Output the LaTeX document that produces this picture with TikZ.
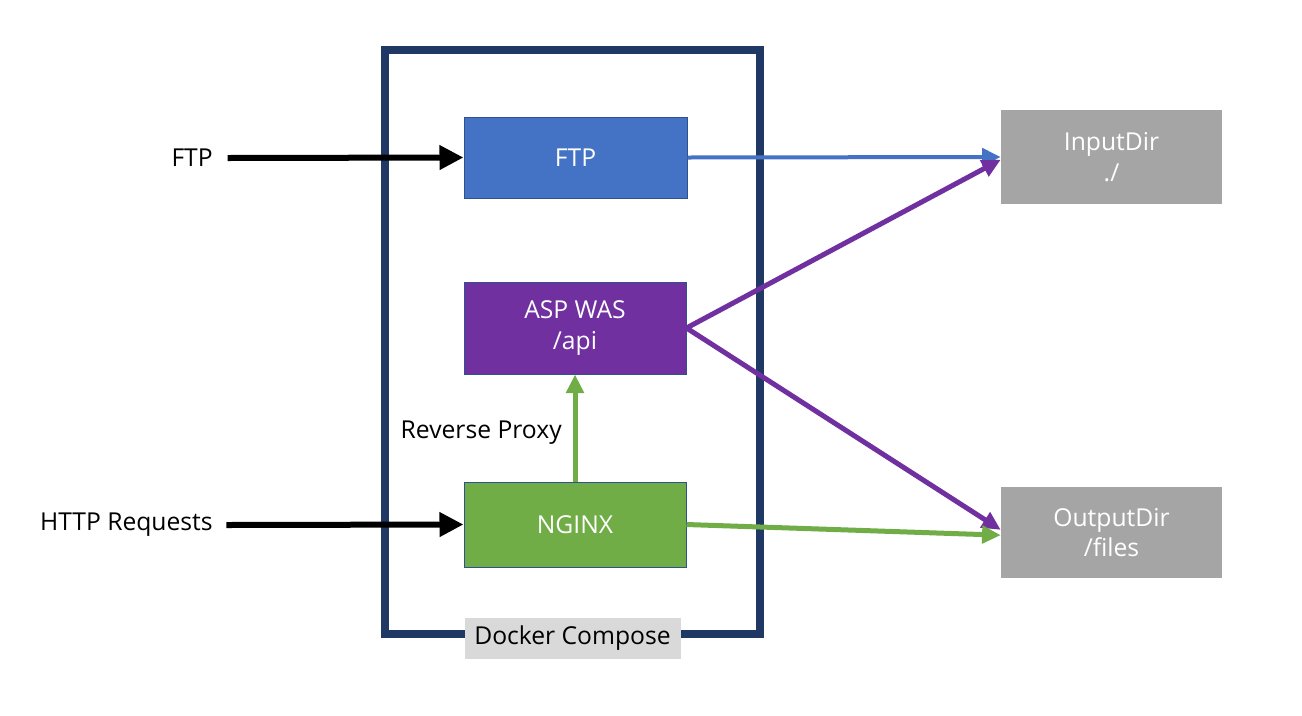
\documentclass[tikz,border=0pt]{standalone}
\usepackage{xcolor}
\usepackage{fontspec}
\setmainfont{Open Sans}
\usepackage{tikz}
\usetikzlibrary{shapes.geometric, arrows.meta}
\definecolor{ftpblue}{HTML}{4472C4}
\definecolor{waspurple}{HTML}{7030A0}
\definecolor{nginxgreen}{HTML}{70AD47}
\definecolor{dirgray}{HTML}{A5A5A5}
\definecolor{framenavy}{HTML}{203864}
\definecolor{edgenavy}{HTML}{2F528F}
\definecolor{labelgray}{HTML}{D9D9D9}
\tikzstyle{service} = [rectangle, draw=edgenavy, line width=0.75pt, text=white, align=center, inner sep=0pt]
\tikzstyle{folder} = [rectangle, fill=dirgray, text=white, align=center, inner sep=0pt, minimum width=165.75pt]
\tikzstyle{inarrow} = [line width=4.5pt, -{Triangle[length=18pt, width=17.5pt]}]
\tikzstyle{outarrow} = [line width=3.75pt, -{Triangle[length=14pt, width=13pt]}]

\begin{document}
\begin{tikzpicture}[x=0.75pt, y=-0.75pt, font=\fontsize{18.5pt}{23pt}\selectfont]
        \useasboundingbox[fill=white] (0,0) rectangle (1302,715);
        % Docker Compose frame
        \node (compose) [rectangle, draw=framenavy, line width=6pt, minimum width=281.25pt, minimum height=438pt] at (572.5,342) {};
        \node (composelabel) [fill=labelgray, minimum width=162pt, minimum height=30.75pt, inner sep=0pt] at (compose.south) {Docker Compose};
        % Services
        \node (ftp) [service, fill=ftpblue, minimum width=167.25pt, minimum height=60.75pt] at (575.5,157.5) {FTP};
        \node (was) [service, fill=waspurple, minimum width=166.5pt, minimum height=69pt] at (575,328) {ASP WAS\\/api};
        \node (nginx) [service, fill=nginxgreen, minimum width=166.5pt, minimum height=63.75pt] at (575,524.5) {NGINX};
        % Directories
        \node (inputdir) [folder, minimum height=70.5pt] at (1111.5,157) {InputDir\\./};
        \node (outputdir) [folder, minimum height=68.25pt] at (1111.5,532.5) {OutputDir\\/files};
        % Clients
        \node (ftpclient) [anchor=east, inner sep=0pt] at (213,158) {FTP};
        \node (httpclient) [anchor=east, inner sep=0pt] at (213,525) {HTTP Requests};
        \node (proxylabel) [anchor=east, inner sep=0pt] at (562,433) {Reverse Proxy};
        % Connectors
        \draw[inarrow] ([xshift=11pt]ftpclient.east) -- (ftp.west);
        \draw[inarrow] ([xshift=10pt]httpclient.east) -- (nginx.west);
        \draw[outarrow, ftpblue, line width=3pt] (ftp.east) -- (inputdir.west);
        \draw[outarrow, waspurple] (was.east) -- ([yshift=-2pt]inputdir.west);
        \draw[outarrow, waspurple] (was.east) -- ([yshift=2pt]outputdir.west);
        \draw[outarrow, nginxgreen] (nginx.east) -- ([yshift=-2pt]outputdir.west);
        \draw[outarrow, nginxgreen] (nginx.north) -- (was.south);
\end{tikzpicture}
\end{document}
